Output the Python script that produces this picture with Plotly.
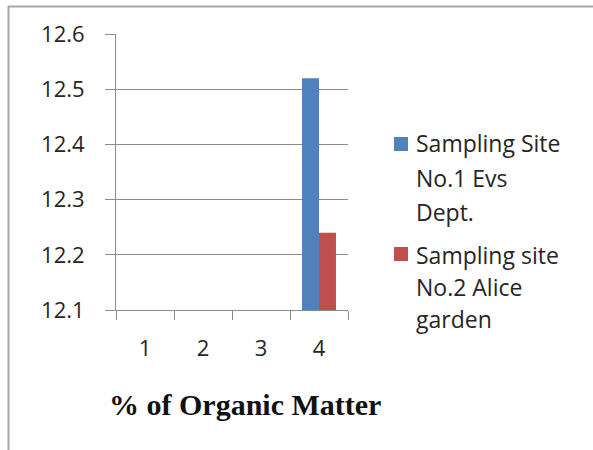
import plotly.graph_objects as go

# Data
categories = ["1", "2", "3", "4"]
site1_values = [None, None, None, 12.52]
site2_values = [None, None, None, 12.24]
series_names = ["Sampling Site No.1 Evs Dept.", "Sampling site No.2 Alice garden"]
legend_lines = [["Sampling Site", "No.1 Evs", "Dept."],
                ["Sampling site", "No.2 Alice", "garden"]]
y_ticks = [12.1, 12.2, 12.3, 12.4, 12.5, 12.6]
x_title = "% of Organic Matter"

BLUE = "#4F81BD"
RED = "#C0504D"
GRID = "#8c8c8c"
W, H = 593, 450
L, R, T, B = 116, 245, 34, 140
PW, PH = W - L - R, H - T - B


def px_x(px):
    return (px - L) / PW


def px_y(py):
    return (H - B - py) / PH


fig = go.Figure()
fig.add_bar(x=categories, y=site1_values, name=series_names[0],
            marker=dict(color=BLUE, line=dict(width=0)))
fig.add_bar(x=categories, y=site2_values, name=series_names[1],
            marker=dict(color=RED, line=dict(width=0)))

tick_font = dict(family="Open Sans, sans-serif", size=22, color="#262626")

fig.update_layout(
    width=W, height=H,
    margin=dict(l=L, r=R, t=T, b=B, pad=0),
    paper_bgcolor="white", plot_bgcolor="white",
    barmode="group", bargap=0.414, bargroupgap=0,
    showlegend=False,
    xaxis=dict(
        type="category", categoryorder="array", categoryarray=categories,
        showgrid=False, showline=True, linecolor=GRID, linewidth=1,
        ticks="outside", ticklen=9, tickcolor=GRID, tickwidth=1,
        tickson="boundaries", tickfont=tick_font, ticklabelstandoff=19,
        zeroline=False,
    ),
    yaxis=dict(
        range=[12.1, 12.6], tickvals=y_ticks, tickformat=".1f",
        showgrid=True, gridcolor=GRID, gridwidth=1,
        showline=True, linecolor=GRID, linewidth=1,
        ticks="outside", ticklen=10, tickcolor=GRID, tickwidth=1,
        tickfont=tick_font, ticklabelstandoff=16, zeroline=False,
    ),
)

# Axis title
fig.add_annotation(
    text=f"<b>{x_title}</b>", xref="paper", yref="paper",
    x=px_x(245), y=px_y(404), xanchor="center", yanchor="middle",
    showarrow=False,
    font=dict(family="Liberation Serif, Times New Roman, serif", size=30, color="#111"),
)

# Legend: colour keys with wrapped labels
legend_font = dict(family="Open Sans, sans-serif", size=23, color="#262626")
key_tops = [137, 247]
line_centres = [[143, 178, 212], [255, 287, 319]]
for colour, top, lines, ys in zip([BLUE, RED], key_tops, legend_lines, line_centres):
    fig.add_shape(type="rect", xref="paper", yref="paper",
                  x0=px_x(394), x1=px_x(408), y0=px_y(top), y1=px_y(top + 14),
                  fillcolor=colour, line=dict(width=0))
    for text, yc in zip(lines, ys):
        fig.add_annotation(text=text, xref="paper", yref="paper",
                           x=px_x(414), y=px_y(yc), xanchor="left", yanchor="middle",
                           showarrow=False, font=legend_font)

# Chart-area frame (left and top edges)
fig.add_shape(type="line", xref="paper", yref="paper",
              x0=px_x(8.5), x1=px_x(8.5), y0=px_y(6), y1=px_y(452),
              line=dict(color="#a6a6a6", width=2))
fig.add_shape(type="line", xref="paper", yref="paper",
              x0=px_x(8), x1=px_x(600), y0=px_y(6.5), y1=px_y(6.5),
              line=dict(color="#a6a6a6", width=2))

fig.write_html("out.html")
